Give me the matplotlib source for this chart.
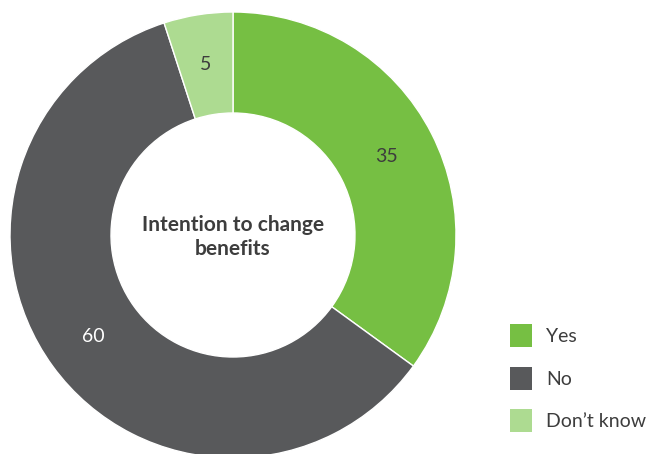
import matplotlib.pyplot as plt
from matplotlib.patches import Patch

# Survey answers: intention to change benefits (%)
labels = ['Yes', 'No', 'Don\u2019t know']
values = [35, 60, 5]
colors = ['#76bf43', '#58595b', '#addb91']
label_colors = ['#3d3d3d', '#ffffff', '#3d3d3d']

plt.rcParams['font.family'] = ['Lato', 'DejaVu Sans']

W, H = 651, 454
fig = plt.figure(figsize=(W / 100, H / 100), dpi=100)
ax = fig.add_axes([0, 0, 1, 1])

cx, cy = 233, H - 235
wedges, texts, autotexts = ax.pie(
    values, colors=colors, startangle=90, counterclock=False,
    center=(cx, cy), radius=223,
    autopct=lambda p: f'{p:.0f}', pctdistance=0.775,
    wedgeprops=dict(width=101, edgecolor='white', linewidth=1),
    textprops=dict(fontsize=14),
)
for t, c in zip(autotexts, label_colors):
    t.set_color(c)

# pie() resets the limits, so set the pixel-sized frame afterwards
ax.set_xlim(0, W)
ax.set_ylim(0, H)
ax.set_aspect('equal')
ax.axis('off')

ax.text(cx, cy - 2, 'Intention to change\nbenefits', ha='center', va='center',
        fontsize=15, fontweight='bold', color='#3d3d3d', linespacing=1.2)

handles = [Patch(facecolor=c, edgecolor='none') for c in colors]
ax.legend(handles, labels, loc='upper left', bbox_to_anchor=(510 / W, (H - 324) / H),
          bbox_transform=fig.transFigure, frameon=False, fontsize=14,
          handlelength=1.13, handleheight=1.45, handletextpad=0.72,
          labelspacing=1.0, borderpad=0, borderaxespad=0, labelcolor='#3d3d3d')

fig.savefig('out.png', dpi=100)
